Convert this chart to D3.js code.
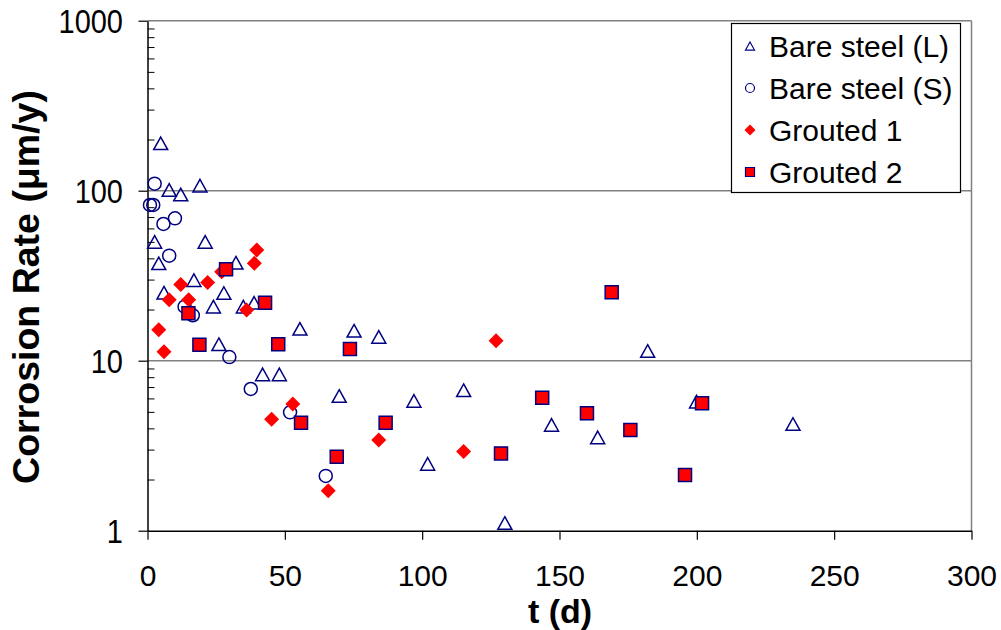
<!DOCTYPE html>
<html><head><meta charset="utf-8">
<script src="https://cdn.jsdelivr.net/npm/d3@7"></script>
<style>body{margin:0;background:#fff;}svg{display:block;font-family:"Liberation Sans",Arial,sans-serif;}</style>
</head><body>
<script>
const bareL_t = [4.8, 7.9, 12.1, 19.1, 2.6, 21, 4.1, 32.2, 16.9, 6, 27.8, 24, 34.9, 38.8, 55.5, 26, 41.9, 48, 75.2, 84.2, 69.8, 97, 102, 115.1, 130.1, 147.1, 163.9, 182.1, 199.9, 235];
const bareL_v = [190, 101, 95, 107, 50, 50, 37.4, 37.7, 29.8, 25.1, 25, 20.8, 20.8, 21.9, 15.4, 12.5, 8.3, 8.3, 15, 13.8, 6.2, 5.8, 2.47, 6.7, 1.11, 4.19, 3.54, 11.4, 5.74, 4.24];
const bareS_t = [2.6, 0.9, 2.1, 10, 5.8, 7.9, 13.5, 16.5, 29.8, 37.6, 51.9, 64.9];
const bareS_v = [110, 82.4, 82.4, 68.8, 63.7, 41.5, 20.8, 18.5, 10.5, 6.82, 4.97, 2.1];
const g1_t = [39.8, 38.9, 12.1, 21.9, 7.9, 15, 36.1, 4.1, 6, 27, 52.9, 45.2, 84.2, 65.8, 126.9, 115.1];
const g1_v = [44.8, 37.4, 28.1, 28.8, 22.8, 22.8, 19.9, 15.2, 11.3, 33.4, 5.56, 4.52, 3.42, 1.72, 13.1, 2.92];
const g2_t = [28.6, 42.8, 14.9, 18.9, 47.6, 73.7, 55.9, 86.7, 68.9, 169, 143.7, 160, 175.8, 201.9, 195.7, 128.7];
const g2_v = [34.5, 21.9, 19.0, 12.4, 12.5, 11.7, 4.32, 4.32, 2.72, 25.3, 6.06, 4.9, 3.91, 5.62, 2.13, 2.85];
const seriesNames = ["Bare steel (L)", "Bare steel (S)", "Grouted 1", "Grouted 2"];
const xTicks = [0, 50, 100, 150, 200, 250, 300];
const yTicks = [1, 10, 100, 1000];
const xTitle = "t (d)";
const yTitle = "Corrosion Rate (\u03bcm/y)";

const W = 1001, H = 630;
const L = 147.5, R = 971.5, T = 20.7, B = 530.7;
const svg = d3.select("body").append("svg").attr("width", W).attr("height", H);
const x = d3.scaleLinear().domain([0, 300]).range([L, R]);
const y = d3.scaleLog().domain([1, 1000]).range([B, T]);

// gridlines
svg.append("g").selectAll("line").data([10, 100, 1000]).join("line")
  .attr("x1", L).attr("x2", R).attr("y1", d => y(d)).attr("y2", d => y(d))
  .attr("stroke", "#808080").attr("stroke-width", 1.5);
svg.append("line").attr("x1", R).attr("x2", R).attr("y1", T).attr("y2", B)
  .attr("stroke", "#808080").attr("stroke-width", 1.5);

// minor y ticks
const minors = [];
for (let d = 1; d < 1000; d *= 10) for (let k = 2; k <= 9; k++) minors.push(d * k);
const gMinor = svg.append("g").attr("transform", `translate(${L},0)`)
  .call(d3.axisRight(y).tickValues(minors).tickSize(7).tickFormat(""));
gMinor.select(".domain").remove();
gMinor.selectAll("line").attr("stroke", "#000").attr("stroke-width", 1);

// y axis
const gy = svg.append("g").attr("transform", `translate(${L},0)`)
  .call(d3.axisLeft(y).tickValues(yTicks).tickSize(9).tickSizeOuter(0).tickFormat(d3.format("d")));
gy.select(".domain").attr("stroke", "#000").attr("stroke-width", 1.5);
gy.selectAll("line").attr("stroke", "#000").attr("stroke-width", 1.2);
gy.selectAll("text").attr("font-size", 29).attr("fill", "#000").attr("font-family", "Liberation Sans, Arial, sans-serif")
  .attr("x", 0).attr("y", 0).attr("dy", 0).attr("text-anchor", "end")
  .attr("transform", `translate(${123 - L},11.5) scale(1,1.12)`);

// x axis
const gx = svg.append("g").attr("transform", `translate(0,${B})`)
  .call(d3.axisBottom(x).tickValues(xTicks).tickSize(9).tickSizeOuter(0));
gx.select(".domain").attr("stroke", "#000").attr("stroke-width", 1.5);
gx.selectAll("line").attr("stroke", "#000").attr("stroke-width", 1.2);
gx.selectAll("text").attr("font-size", 30).attr("fill", "#000").attr("font-family", "Liberation Sans, Arial, sans-serif")
  .attr("y", 0).attr("dy", 0)
  .attr("transform", `translate(0,${585.5 - B})`);

// titles
svg.append("text").attr("x", 560).attr("y", 623).attr("text-anchor", "middle")
  .attr("font-size", 34).attr("font-weight", "bold").text(xTitle);
svg.append("text").attr("transform", "translate(39,287) rotate(-90)").attr("text-anchor", "middle")
  .attr("font-size", 37.5).attr("font-weight", "bold").text(yTitle);

// markers
const NAVY = "#000080", RED = "#ff0000";
function tri(s) { const h = s * 0.9; return `M0,${-h/2}L${s/2},${h/2}L${-s/2},${h/2}Z`; }
function diamond(s) { const a = s / 2; return `M0,${-a}L${a},0L0,${a}L${-a},0Z`; }
function square(s) { const a = s / 2; return `M${-a},${-a}H${a}V${a}H${-a}Z`; }
function drawSeries(ts, vs, kind) {
  const g = svg.append("g");
  const data = ts.map((t, i) => [t, vs[i]]);
  const sel = g.selectAll("path").data(data).join("path")
    .attr("transform", d => `translate(${x(d[0])},${y(d[1])})`);
  if (kind === 0) sel.attr("d", tri(14)).attr("fill", "none").attr("stroke", NAVY).attr("stroke-width", 1.5);
  if (kind === 1) sel.attr("d", d3.symbol(d3.symbolCircle, Math.PI * 6.5 * 6.5)()).attr("fill", "none").attr("stroke", NAVY).attr("stroke-width", 1.5);
  if (kind === 2) sel.attr("d", diamond(15)).attr("fill", RED).attr("stroke", "none");
  if (kind === 3) sel.attr("d", square(13)).attr("fill", RED).attr("stroke", NAVY).attr("stroke-width", 1.5);
}
drawSeries(bareL_t, bareL_v, 0);
drawSeries(bareS_t, bareS_v, 1);
drawSeries(g1_t, g1_v, 2);
drawSeries(g2_t, g2_v, 3);

// legend
const lg = svg.append("g");
lg.append("rect").attr("x", 731.5).attr("y", 23.5).attr("width", 229).attr("height", 169)
  .attr("fill", "#fff").attr("stroke", "#000").attr("stroke-width", 1.2);
const rowsY = [46, 88, 130, 172];
seriesNames.forEach((name, i) => {
  const cy = rowsY[i];
  const p = lg.append("path").attr("transform", `translate(750,${cy})`);
  if (i === 0) p.attr("d", tri(9)).attr("fill", "none").attr("stroke", NAVY).attr("stroke-width", 1.2);
  if (i === 1) p.attr("d", d3.symbol(d3.symbolCircle, Math.PI * 4.5 * 4.5)()).attr("fill", "none").attr("stroke", NAVY).attr("stroke-width", 1.2);
  if (i === 2) p.attr("d", diamond(11)).attr("fill", RED);
  if (i === 3) p.attr("d", square(9)).attr("fill", RED).attr("stroke", NAVY).attr("stroke-width", 1.2);
  lg.append("text").attr("x", 769).attr("y", cy + 10.5).attr("font-size", 30).attr("fill", "#000").text(name);
});
</script>
</body></html>
